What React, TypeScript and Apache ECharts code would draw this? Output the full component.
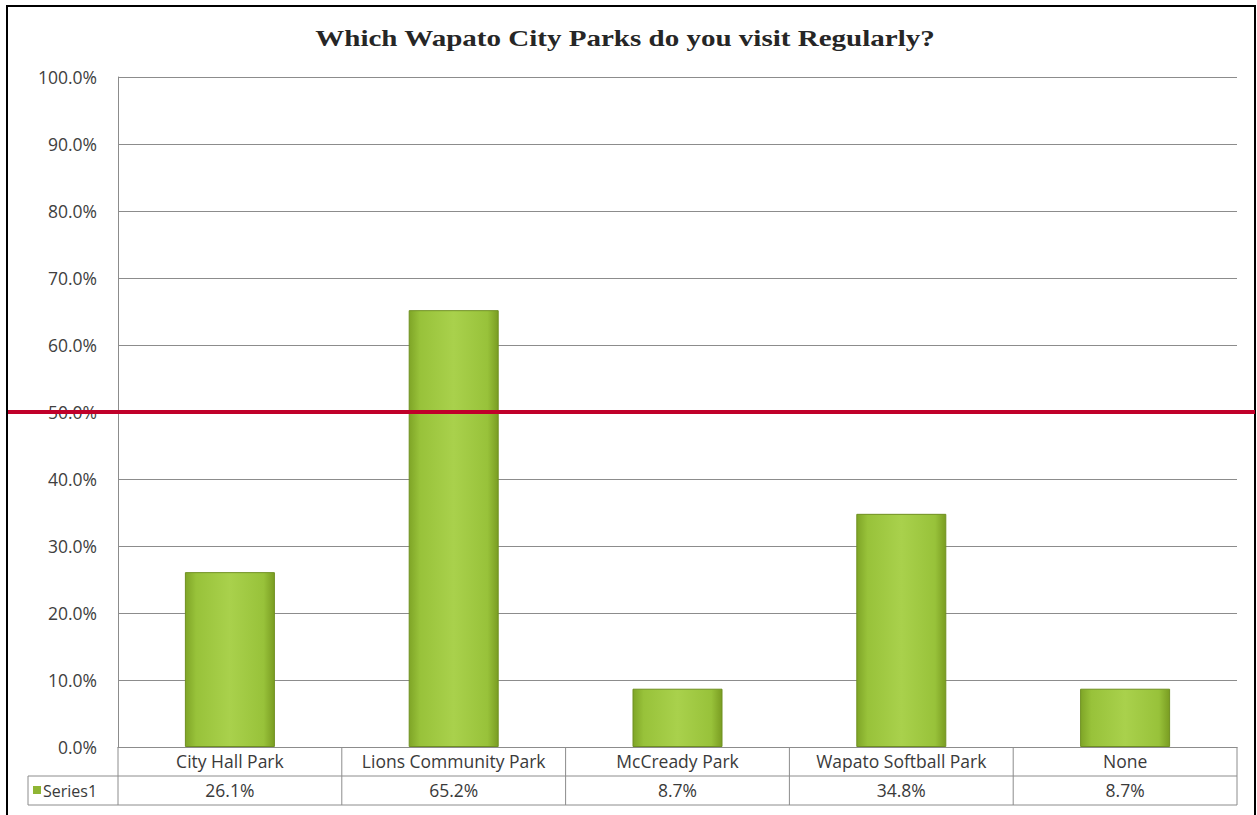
import React, { useEffect, useRef } from "react";
import * as echarts from "echarts";

const categories = ["City Hall Park", "Lions Community Park", "McCready Park", "Wapato Softball Park", "None"];
const values = [26.1, 65.2, 8.7, 34.8, 8.7];
const seriesName = "Series1";
const titleText = "Which Wapato City Parks do you visit Regularly?";
const referenceValue = 50;

const W = 1257;
const H = 815;
const G_LEFT = 118;
const G_RIGHT = 1237;
const G_TOP = 77;
const G_BOTTOM = 747;
const ROW_H = 29;
const LEGEND_LEFT = 28;

const fmt = (v: number) => v.toFixed(1) + "%";

export default function App() {
  const ref = useRef<HTMLDivElement>(null);
  useEffect(() => {
    document.body.style.margin = "0";
    const chart = echarts.init(ref.current!, null, { renderer: "svg" });
    const font = "'Open Sans', 'Noto Sans', sans-serif";
    const fs = 17.5;
    const gridColor = "#8c8c8c";
    const barGrad = new echarts.graphic.LinearGradient(0, 0, 1, 0, [
      { offset: 0, color: "#7fa527" },
      { offset: 0.12, color: "#98c23a" },
      { offset: 0.5, color: "#a9d14c" },
      { offset: 0.88, color: "#98c23a" },
      { offset: 1, color: "#7a9d22" },
    ]);
    chart.setOption({
      animation: false,
      backgroundColor: "#ffffff",
      grid: { left: G_LEFT, right: W - G_RIGHT, top: G_TOP, bottom: H - G_BOTTOM, containLabel: false },
      xAxis: [
        {
          type: "category",
          data: categories,
          axisLine: { show: true, lineStyle: { color: gridColor, width: 1 } },
          axisTick: { show: false },
          axisLabel: { margin: 5, fontFamily: font, fontSize: fs, color: "#3a3a3a", interval: 0 },
        },
        {
          type: "category",
          position: "bottom",
          offset: ROW_H,
          data: values.map(fmt),
          axisLine: { show: false },
          axisTick: { show: false },
          axisLabel: { margin: 5, fontFamily: font, fontSize: fs, color: "#3a3a3a", interval: 0 },
        },
      ],
      yAxis: {
        type: "value",
        min: 0,
        max: 100,
        interval: 10,
        axisLine: { show: true, lineStyle: { color: gridColor, width: 1 } },
        axisTick: { show: false },
        axisLabel: { formatter: fmt, fontFamily: font, fontSize: fs, color: "#404040", margin: 21 },
        splitLine: { show: true, lineStyle: { color: gridColor, width: 1 } },
      },
      series: [
        {
          name: seriesName,
          type: "bar",
          data: values,
          barWidth: 90,
          itemStyle: { color: barGrad, borderColor: "#6f9020", borderWidth: 1 },
        },
      ],
    });

    const y50 = chart.convertToPixel({ yAxisIndex: 0 }, referenceValue) as number;
    const colW = (G_RIGHT - G_LEFT) / categories.length;
    const lineStyle = { stroke: gridColor, lineWidth: 1 };
    const graphics: any[] = [];
    graphics.push({
      type: "text",
      x: 625,
      y: 38,
      scaleX: 1.21,
      style: {
        text: titleText,
        fontFamily: "'Liberation Serif', 'DejaVu Serif', serif",
        fontWeight: "bold",
        fontSize: 24,
        fill: "#262626",
        align: "center",
        verticalAlign: "middle",
      },
      silent: true,
    });
    [G_BOTTOM + ROW_H, G_BOTTOM + 2 * ROW_H].forEach((y) => {
      graphics.push({ type: "line", shape: { x1: LEGEND_LEFT, y1: y, x2: G_RIGHT, y2: y }, style: lineStyle, silent: true });
    });
    for (let i = 0; i <= categories.length; i++) {
      const x = G_LEFT + i * colW;
      graphics.push({ type: "line", shape: { x1: x, y1: G_BOTTOM, x2: x, y2: G_BOTTOM + 2 * ROW_H }, style: lineStyle, silent: true });
    }
    graphics.push({ type: "line", shape: { x1: LEGEND_LEFT, y1: G_BOTTOM + ROW_H, x2: LEGEND_LEFT, y2: G_BOTTOM + 2 * ROW_H }, style: lineStyle, silent: true });
    graphics.push({ type: "rect", shape: { x: LEGEND_LEFT + 5, y: G_BOTTOM + ROW_H + 10, width: 8, height: 8 }, style: { fill: "#8fb534" }, silent: true });
    graphics.push({
      type: "text",
      x: LEGEND_LEFT + 15,
      y: G_BOTTOM + ROW_H + ROW_H / 2,
      style: { text: seriesName, fontFamily: font, fontSize: 16, fill: "#3a3a3a", verticalAlign: "middle", align: "left" },
      silent: true,
    });
    graphics.push({ type: "rect", shape: { x: 7, y: 6, width: 1248, height: H + 20 }, style: { fill: "none", stroke: "#000000", lineWidth: 2 }, silent: true });
    graphics.push({ type: "line", shape: { x1: 8, y1: y50, x2: 1255, y2: y50 }, style: { stroke: "#c0002a", lineWidth: 4 }, silent: true, z: 100 });
    chart.setOption({ graphic: graphics });
    return () => chart.dispose();
  }, []);
  return <div ref={ref} style={{ position: "fixed", left: 0, top: 0, width: W, height: H }} />;
}
